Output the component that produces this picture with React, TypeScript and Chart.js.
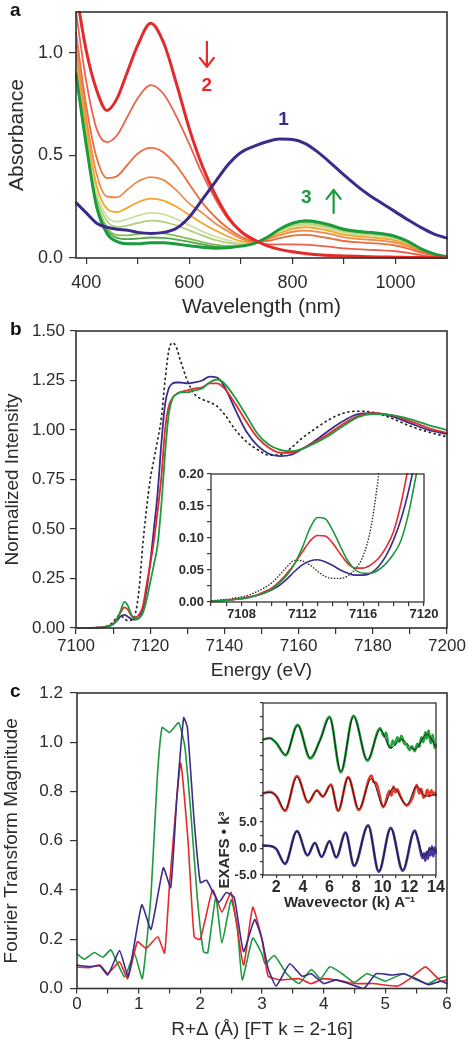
import React, { useEffect, useRef } from 'react';
import { Chart, registerables } from 'chart.js';

Chart.register(...registerables);

const FONT = '"Liberation Sans", Arial, Helvetica, sans-serif';
Chart.defaults.font.family = FONT;

const TEXT = '#2b2b2b';
const AXIS = '#333333';

// ---------------- Panel a : UV-vis absorbance ----------------
const aWavelength = [380, 400, 420, 440, 460, 480, 500, 525, 550, 575, 600, 625, 650, 675, 700, 725, 750, 775, 800, 825, 850, 875, 900, 925, 950, 975, 1000, 1025, 1050, 1075, 1100];
const aSpec1 = [0.27, 0.22, 0.17, 0.15, 0.14, 0.135, 0.125, 0.12, 0.125, 0.145, 0.2, 0.285, 0.37, 0.455, 0.515, 0.545, 0.567, 0.58, 0.578, 0.558, 0.515, 0.462, 0.405, 0.352, 0.305, 0.265, 0.225, 0.185, 0.148, 0.117, 0.097];
const aSpec2 = [1.3, 1.01, 0.82, 0.72, 0.78, 0.91, 1.04, 1.145, 1.05, 0.85, 0.63, 0.45, 0.31, 0.2, 0.13, 0.09, 0.06, 0.042, 0.03, 0.022, 0.016, 0.012, 0.01, 0.008, 0.006, 0.005, 0.004, 0.003, 0.002, 0.001, 0.0];
const aSpec3 = [0.9, 0.55, 0.25, 0.12, 0.08, 0.07, 0.07, 0.075, 0.075, 0.068, 0.06, 0.053, 0.048, 0.05, 0.058, 0.07, 0.1, 0.14, 0.17, 0.182, 0.175, 0.16, 0.14, 0.13, 0.125, 0.118, 0.105, 0.08, 0.045, 0.02, 0.005];
const aStep1 = [1.2, 0.86, 0.63, 0.565, 0.6, 0.69, 0.78, 0.843, 0.8, 0.69, 0.555, 0.41, 0.29, 0.19, 0.125, 0.085, 0.068, 0.066, 0.066, 0.065, 0.06, 0.054, 0.047, 0.043, 0.04, 0.037, 0.033, 0.025, 0.014, 0.006, 0.001];
const aStep2 = [1.1, 0.74, 0.49, 0.39, 0.4, 0.455, 0.51, 0.537, 0.515, 0.45, 0.36, 0.27, 0.2, 0.145, 0.105, 0.082, 0.083, 0.097, 0.109, 0.113, 0.106, 0.095, 0.083, 0.077, 0.073, 0.069, 0.061, 0.046, 0.026, 0.012, 0.003];
const aStep3 = [1.04, 0.68, 0.41, 0.3, 0.296, 0.334, 0.373, 0.395, 0.38, 0.33, 0.265, 0.22, 0.17, 0.13, 0.095, 0.079, 0.089, 0.111, 0.128, 0.134, 0.127, 0.116, 0.101, 0.093, 0.089, 0.084, 0.075, 0.057, 0.032, 0.014, 0.004];
const aStep4 = [0.99, 0.634, 0.354, 0.241, 0.224, 0.246, 0.272, 0.29, 0.28, 0.25, 0.21, 0.17, 0.135, 0.105, 0.082, 0.076, 0.092, 0.12, 0.142, 0.15, 0.143, 0.13, 0.114, 0.106, 0.101, 0.095, 0.085, 0.065, 0.036, 0.016, 0.004];
const aStep5 = [0.96, 0.607, 0.32, 0.202, 0.177, 0.189, 0.207, 0.22, 0.213, 0.19, 0.16, 0.13, 0.105, 0.086, 0.073, 0.074, 0.095, 0.127, 0.151, 0.16, 0.153, 0.14, 0.122, 0.114, 0.109, 0.103, 0.091, 0.07, 0.039, 0.017, 0.004];
const aStep6 = [0.945, 0.592, 0.302, 0.18, 0.152, 0.158, 0.171, 0.182, 0.176, 0.158, 0.135, 0.11, 0.088, 0.074, 0.068, 0.073, 0.096, 0.13, 0.156, 0.166, 0.159, 0.145, 0.127, 0.118, 0.113, 0.107, 0.095, 0.072, 0.041, 0.018, 0.005];
const aStep7 = [0.92, 0.569, 0.274, 0.148, 0.112, 0.11, 0.116, 0.123, 0.12, 0.108, 0.093, 0.078, 0.065, 0.059, 0.062, 0.071, 0.098, 0.136, 0.164, 0.175, 0.168, 0.153, 0.134, 0.124, 0.12, 0.113, 0.1, 0.077, 0.043, 0.019, 0.005];
const aStep8 = [0.91, 0.56, 0.263, 0.135, 0.098, 0.092, 0.095, 0.1, 0.098, 0.09, 0.079, 0.067, 0.056, 0.054, 0.06, 0.07, 0.099, 0.138, 0.167, 0.178, 0.171, 0.156, 0.137, 0.127, 0.122, 0.115, 0.102, 0.078, 0.044, 0.02, 0.005];
const aXTicks = [400, 500, 600, 700, 800, 900, 1000];
const aXLabeled = [400, 600, 800, 1000];
const aYTicks = [0, 0.5, 1.0];

// ---------------- Panel b : XANES ----------------
const bEnergy = [7100, 7105, 7108, 7110, 7111, 7112, 7113, 7114, 7115, 7116, 7117, 7118, 7119, 7120, 7121, 7122, 7123, 7124, 7125, 7126, 7127, 7128, 7130, 7132, 7134, 7136, 7138, 7140, 7143, 7146, 7149, 7152, 7155, 7158, 7161, 7164, 7168, 7172, 7176, 7180, 7185, 7190, 7195, 7200];
const bRef = [0, 0.002, 0.008, 0.03, 0.055, 0.064, 0.048, 0.037, 0.041, 0.072, 0.195, 0.42, 0.6, 0.75, 0.85, 0.95, 1.06, 1.25, 1.4, 1.44, 1.42, 1.36, 1.25, 1.18, 1.155, 1.14, 1.12, 1.08, 1.0, 0.94, 0.9, 0.873, 0.875, 0.91, 0.96, 1.0, 1.05, 1.085, 1.095, 1.09, 1.06, 1.02, 0.99, 0.965];
const bPurple = [0, 0.001, 0.005, 0.019, 0.036, 0.058, 0.066, 0.057, 0.045, 0.042, 0.052, 0.097, 0.19, 0.33, 0.5, 0.68, 0.93, 1.13, 1.21, 1.235, 1.24, 1.24, 1.235, 1.24, 1.25, 1.27, 1.265, 1.22, 1.1, 0.99, 0.92, 0.88, 0.868, 0.875, 0.905, 0.94, 0.995, 1.045, 1.08, 1.085, 1.07, 1.035, 1.0, 0.98];
const bRed = [0, 0.001, 0.006, 0.022, 0.045, 0.078, 0.104, 0.092, 0.06, 0.053, 0.068, 0.108, 0.215, 0.32, 0.44, 0.59, 0.76, 1.0, 1.12, 1.16, 1.18, 1.19, 1.2, 1.21, 1.215, 1.235, 1.235, 1.21, 1.13, 1.04, 0.96, 0.91, 0.885, 0.885, 0.905, 0.935, 0.98, 1.03, 1.07, 1.085, 1.075, 1.045, 1.01, 0.985];
const bGreen = [0, 0.001, 0.005, 0.02, 0.042, 0.085, 0.132, 0.112, 0.064, 0.045, 0.05, 0.075, 0.14, 0.23, 0.32, 0.42, 0.62, 0.88, 1.08, 1.16, 1.18, 1.19, 1.19, 1.2, 1.21, 1.24, 1.255, 1.235, 1.16, 1.07, 0.98, 0.925, 0.9, 0.893, 0.905, 0.93, 0.97, 1.02, 1.065, 1.08, 1.075, 1.055, 1.025, 1.0];
const bXTicks = [7100, 7110, 7120, 7130, 7140, 7150, 7160, 7170, 7180, 7190, 7200];
const bXLabeled = [7100, 7120, 7140, 7160, 7180, 7200];
const bYTicks = [0, 0.25, 0.5, 0.75, 1.0, 1.25, 1.5];

// inset of b : pre-edge
const biEnergy = [7106, 7106.5, 7107, 7107.5, 7108, 7108.5, 7109, 7109.5, 7110, 7110.5, 7111, 7111.5, 7112, 7112.5, 7113, 7113.5, 7114, 7114.5, 7115, 7115.5, 7116, 7116.5, 7117, 7117.5, 7118, 7118.5, 7119, 7119.5, 7120];
const biRef = [0.002, 0.003, 0.004, 0.006, 0.008, 0.011, 0.016, 0.022, 0.03, 0.042, 0.055, 0.065, 0.064, 0.058, 0.048, 0.04, 0.037, 0.037, 0.041, 0.052, 0.072, 0.115, 0.195, 0.3, 0.42, 0.54, 0.66, 0.78, 0.9];
const biPurple = [0.001, 0.002, 0.003, 0.004, 0.005, 0.007, 0.01, 0.014, 0.019, 0.026, 0.036, 0.048, 0.058, 0.064, 0.066, 0.063, 0.057, 0.05, 0.045, 0.042, 0.042, 0.045, 0.055, 0.072, 0.097, 0.13, 0.175, 0.23, 0.29];
const biRed = [0.001, 0.002, 0.003, 0.004, 0.006, 0.008, 0.011, 0.016, 0.022, 0.032, 0.045, 0.06, 0.078, 0.095, 0.104, 0.103, 0.092, 0.075, 0.06, 0.053, 0.053, 0.058, 0.068, 0.085, 0.11, 0.155, 0.215, 0.28, 0.35];
const biGreen = [0.001, 0.002, 0.003, 0.004, 0.005, 0.007, 0.01, 0.014, 0.02, 0.03, 0.042, 0.06, 0.085, 0.115, 0.132, 0.13, 0.112, 0.087, 0.064, 0.05, 0.045, 0.045, 0.05, 0.06, 0.075, 0.097, 0.14, 0.2, 0.26];
const biXTicks = [7106, 7107, 7108, 7109, 7110, 7111, 7112, 7113, 7114, 7115, 7116, 7117, 7118, 7119, 7120];
const biXLabeled = [7108, 7112, 7116, 7120];
const biYTicks = [0, 0.025, 0.05, 0.075, 0.1, 0.125, 0.15, 0.175, 0.2];
const biYLabeled = [0, 0.05, 0.1, 0.15, 0.2];

// ---------------- Panel c : Fourier transform ----------------
const cPurpleR = [0, 0.2, 0.37, 0.5, 0.69, 0.83, 1.05, 1.2, 1.4, 1.52, 1.62, 1.73, 1.79, 1.9, 2.0, 2.1, 2.3, 2.42, 2.55, 2.7, 2.88, 3.0, 3.1, 3.23, 3.45, 3.65, 3.8, 4.0, 4.2, 4.4, 4.65, 4.85, 5.1, 5.3, 5.5, 5.7, 5.9, 6.0];
const cPurple = [0.095, 0.089, 0.092, 0.055, 0.154, 0.05, 0.34, 0.24, 0.49, 0.41, 0.78, 1.1, 1.06, 0.68, 0.43, 0.44, 0.35, 0.39, 0.37, 0.15, 0.28, 0.2, 0.08, 0.01, 0.1, 0.05, 0.06, 0.02, 0.035, 0.02, 0.0, 0.06, 0.055, 0.06, 0.04, 0.015, 0.03, 0.02];
const cRedR = [0, 0.21, 0.37, 0.5, 0.69, 0.82, 0.98, 1.12, 1.31, 1.42, 1.5, 1.68, 1.8, 1.9, 2.0, 2.2, 2.35, 2.5, 2.7, 2.85, 3.0, 3.1, 3.3, 3.6, 3.8, 4.0, 4.3, 4.5, 4.8, 5.2, 5.4, 5.65, 5.9, 6.0];
const cRed = [0.087, 0.085, 0.095, 0.061, 0.108, 0.04, 0.19, 0.163, 0.21, 0.144, 0.42, 0.915, 0.6, 0.21, 0.2, 0.4, 0.31, 0.39, 0.095, 0.33, 0.2, 0.05, 0.035, 0.04, 0.02, 0.04, 0.03, 0.02, 0.02, 0.01, 0.04, 0.088, 0.03, 0.035];
const cGreenR = [0, 0.12, 0.28, 0.42, 0.55, 0.77, 0.93, 1.06, 1.2, 1.3, 1.38, 1.5, 1.65, 1.75, 1.85, 1.95, 2.05, 2.12, 2.25, 2.35, 2.5, 2.6, 2.68, 2.85, 3.0, 3.05, 3.2, 3.4, 3.6, 3.8, 3.95, 4.1, 4.3, 4.5, 4.7, 4.9, 5.0, 5.3, 5.5, 5.7, 5.85, 6.0];
const cGreen = [0.14, 0.119, 0.146, 0.127, 0.157, 0.048, 0.142, 0.04, 0.38, 0.85, 1.06, 1.04, 1.08, 0.98, 0.7, 0.37, 0.15, 0.145, 0.37, 0.185, 0.36, 0.25, 0.035, 0.205, 0.14, 0.1, 0.134, 0.06, 0.02, 0.077, 0.04, 0.088, 0.06, 0.025, 0.06, 0.04, 0.03, 0.06, 0.035, 0.02, 0.04, 0.05];
const cXTicks = [0, 0.5, 1, 1.5, 2, 2.5, 3, 3.5, 4, 4.5, 5, 5.5, 6];
const cXLabeled = [0, 1, 2, 3, 4, 5, 6];
const cYTicks = [0, 0.2, 0.4, 0.6, 0.8, 1.0, 1.2];

// inset of c : EXAFS (offset traces) data and fits
const ciGreenK = [1.0, 1.5, 2.0, 2.7, 3.6, 4.55, 5.3, 6.0, 6.85, 7.8, 8.85, 9.8, 10.1, 10.25, 10.4, 10.6, 10.75, 10.9, 11.1, 11.25, 11.4, 11.6, 11.8, 12.0, 12.2, 12.4, 12.6, 12.75, 12.9, 13.05, 13.2, 13.3, 13.45, 13.6, 13.75, 13.9, 14.0];
const ciGreen = [20.6, 20.9, 19.9, 17.6, 23.4, 17.0, 20.6, 24.9, 14.4, 25.1, 16.6, 22.7, 21.2, 21.9, 19.8, 19.0, 20.4, 19.6, 21.0, 20.2, 21.3, 19.9, 19.6, 18.6, 19.3, 18.4, 19.8, 19.2, 21.0, 20.1, 22.0, 20.8, 22.3, 19.9, 21.5, 19.0, 19.6];
const ciGreenFitK = [1.0, 1.5, 2.0, 2.7, 3.6, 4.55, 5.3, 6.0, 6.85, 7.8, 8.85, 9.8, 10.6, 11.4, 12.4, 13.3, 14.0];
const ciGreenFit = [20.6, 20.8, 20.0, 17.8, 23.2, 17.2, 20.5, 24.7, 14.6, 24.9, 16.8, 22.5, 19.0, 20.6, 18.7, 21.6, 19.2];
const ciRedK = [1.0, 1.5, 2.0, 2.65, 3.55, 4.4, 5.05, 5.5, 6.1, 6.65, 7.4, 8.2, 9.15, 9.3, 9.5, 10.05, 10.5, 10.65, 10.8, 10.95, 11.1, 11.3, 11.8, 12.2, 12.55, 12.75, 12.9, 13.05, 13.2, 13.35, 13.5, 13.65, 13.8, 13.9, 14.0];
const ciRed = [10.4, 10.7, 9.9, 7.1, 13.7, 8.7, 11.0, 9.8, 12.1, 7.1, 13.5, 7.3, 13.8, 12.6, 12.4, 7.8, 10.9, 10.0, 11.7, 10.6, 11.2, 10.0, 8.1, 9.4, 12.0, 10.4, 11.3, 9.6, 10.0, 11.1, 9.9, 11.0, 10.2, 10.6, 10.0];
const ciRedFitK = [1.0, 1.5, 2.0, 2.65, 3.55, 4.4, 5.05, 5.5, 6.1, 6.65, 7.4, 8.2, 9.15, 10.05, 10.8, 11.8, 12.55, 13.2, 14.0];
const ciRedFit = [10.5, 10.6, 10.0, 7.3, 13.5, 8.9, 10.9, 9.9, 11.9, 7.3, 13.4, 7.5, 13.2, 8.0, 11.5, 8.3, 11.8, 9.9, 10.2];
const ciPurpleK = [1.0, 1.5, 2.0, 2.65, 3.55, 4.35, 4.9, 5.4, 6.0, 6.5, 7.2, 7.85, 8.9, 9.7, 10.6, 11.5, 12.4, 12.7, 12.9, 13.0, 13.1, 13.2, 13.3, 13.4, 13.5, 13.6, 13.7, 13.8, 13.9, 14.0];
const ciPurple = [0.6, 0.5, -0.1, -2.9, 3.3, -1.3, 1.1, -1.6, 1.4, -1.7, 3.0, -3.3, 4.4, -4.4, 3.9, -4.2, 3.4, 1.0, -1.2, -1.8, -0.9, -2.3, -0.6, -1.9, 0.1, -1.3, 0.4, -1.5, 0.2, -0.8];
const ciPurpleFitK = [1.0, 1.5, 2.0, 2.65, 3.55, 4.35, 4.9, 5.4, 6.0, 6.5, 7.2, 7.85, 8.9, 9.7, 10.6, 11.5, 12.4, 13.1, 13.6, 14.0];
const ciPurpleFit = [0.4, 0.5, 0.0, -2.8, 3.2, -1.2, 1.0, -1.5, 1.3, -1.6, 2.9, -3.1, 4.2, -4.2, 3.7, -4.0, 3.2, -1.5, 0.0, -0.6];
const ciXTicks = [1, 2, 3, 4, 5, 6, 7, 8, 9, 10, 11, 12, 13, 14];
const ciXLabeled = [2, 4, 6, 8, 10, 12, 14];
const ciYTicks = [-5, -2.5, 0, 2.5, 5, 7.5, 10, 12.5, 15, 17.5, 20, 22.5, 25, 27.5];
const ciYLabeled = [-5, 0, 5];

// ---------------- styles ----------------
const PURPLE = '#3d2a8a';
const RED = '#e42a2a';
const GREEN = '#1b9a3e';
const STEP_COLORS = ['#ec604e', '#ec6c3c', '#f08a48', '#f5a62a', '#cddf9a', '#aed07a', '#82bc55', '#4ea845'];

const pts = (xs: number[], ys: number[]) => xs.map((x, i) => ({ x, y: ys[i] }));

function axis(o: any) {
  return {
    type: 'linear',
    min: o.min,
    max: o.max,
    afterBuildTicks: (s: any) => {
      s.ticks = o.ticks.map((v: number) => ({ value: v }));
    },
    afterFit: (s: any) => {
      if (o.horizontal) s.height = o.size;
      else s.width = o.size;
      s.paddingTop = 0;
      s.paddingBottom = 0;
      s.paddingLeft = 0;
      s.paddingRight = 0;
    },
    grid: { display: true, drawOnChartArea: false, drawTicks: true, tickLength: o.tickLength, color: AXIS, lineWidth: 1.2 },
    border: { display: false },
    ticks: {
      autoSkip: false,
      maxRotation: 0,
      minRotation: 0,
      padding: o.padding,
      color: TEXT,
      font: o.font,
      callback: (v: number) => (o.labeled.includes(v) ? o.fmt(v) : ''),
    },
    title: o.title
      ? { display: true, text: o.title, color: TEXT, font: o.titleFont, padding: o.titlePadding }
      : { display: false },
  };
}

const framePlugin = {
  id: 'frame',
  beforeDraw(chart: any, _a: any, opts: any) {
    if (!opts || !opts.fill) return;
    const { ctx, chartArea: c } = chart;
    ctx.save();
    ctx.fillStyle = opts.fill;
    ctx.fillRect(c.left, c.top, c.right - c.left, c.bottom - c.top);
    ctx.restore();
  },
  afterDraw(chart: any, _a: any, opts: any) {
    const { ctx, chartArea: c } = chart;
    ctx.save();
    ctx.strokeStyle = (opts && opts.color) || AXIS;
    ctx.lineWidth = (opts && opts.width) || 1.5;
    ctx.strokeRect(c.left, c.top, c.right - c.left, c.bottom - c.top);
    ctx.restore();
  },
};

const annotPlugin = {
  id: 'annot',
  afterDraw(chart: any, _a: any, opts: any) {
    const { ctx, scales } = chart;
    const X = (v: number) => scales.x.getPixelForValue(v);
    const Y = (v: number) => scales.y.getPixelForValue(v);
    (opts.arrows || []).forEach((a: any) => {
      const x = X(a.x);
      const y1 = Y(a.from);
      const y2 = Y(a.to);
      const dir = y2 > y1 ? 1 : -1;
      ctx.save();
      ctx.strokeStyle = a.color;
      ctx.lineWidth = a.width;
      ctx.lineCap = 'round';
      ctx.lineJoin = 'round';
      ctx.beginPath();
      ctx.moveTo(x, y1);
      ctx.lineTo(x, y2);
      ctx.moveTo(x - a.head, y2 - dir * a.headLen);
      ctx.lineTo(x, y2);
      ctx.lineTo(x + a.head, y2 - dir * a.headLen);
      ctx.stroke();
      ctx.restore();
    });
    (opts.texts || []).forEach((t: any) => {
      const px = t.data ? X(t.x) : t.x;
      const py = t.data ? Y(t.y) : t.y;
      ctx.save();
      ctx.translate(px, py);
      if (t.rotate) ctx.rotate(t.rotate);
      ctx.font = t.font;
      ctx.fillStyle = t.color;
      ctx.textAlign = t.align || 'center';
      ctx.textBaseline = t.baseline || 'middle';
      ctx.fillText(t.text, 0, 0);
      ctx.restore();
    });
  },
};

function line(xs: number[], ys: number[], color: string, width: number, extra: any = {}) {
  return {
    data: pts(xs, ys),
    borderColor: color,
    borderWidth: width,
    pointRadius: 0,
    fill: false,
    cubicInterpolationMode: 'monotone',
    clip: 1,
    ...extra,
  };
}

function baseOptions(padding: any, scales: any, plugins: any) {
  return {
    responsive: false,
    animation: false,
    devicePixelRatio: 1,
    events: [],
    layout: { padding },
    plugins: { legend: { display: false }, tooltip: { enabled: false }, ...plugins },
    elements: { point: { radius: 0 }, line: { borderCapStyle: 'round', borderJoinStyle: 'round' } },
    scales,
  };
}

const f = (size: number, bold = false) => ({ family: FONT, size, weight: bold ? 'bold' : 'normal', lineHeight: 1.2 });
const panelLetter = (text: string, y: number) => ({ text, x: 10, y, font: `bold 19px ${FONT}`, color: '#111', align: 'left', baseline: 'alphabetic' });

function configA() {
  const steps = [aStep1, aStep2, aStep3, aStep4, aStep5, aStep6, aStep7, aStep8];
  return {
    type: 'line',
    data: {
      datasets: [
        line(aWavelength, aSpec1, PURPLE, 3),
        line(aWavelength, aSpec2, RED, 3),
        line(aWavelength, aSpec3, GREEN, 3),
        ...steps.map((s, i) => line(aWavelength, s, STEP_COLORS[i], 1.8)),
      ],
    },
    options: baseOptions(
      { top: 12, right: 21, left: 0, bottom: 0 },
      {
        x: axis({ min: 380, max: 1100, ticks: aXTicks, labeled: aXLabeled, fmt: (v: number) => String(v), horizontal: true, size: 62, tickLength: 6, padding: 8, font: f(18), title: 'Wavelength (nm)', titleFont: f(21), titlePadding: { top: 0, bottom: 0 } }),
        y: axis({ min: 0, max: 1.2, ticks: aYTicks, labeled: aYTicks, fmt: (v: number) => v.toFixed(1), size: 76, tickLength: 7, padding: 6, font: f(18), title: 'Absorbance', titleFont: f(21), titlePadding: { top: 5, bottom: 0 } }),
      },
      {
        frame: { color: AXIS, width: 1.6 },
        annot: {
          arrows: [
            { x: 634, from: 1.054, to: 0.932, color: RED, width: 2.2, head: 7, headLen: 9 },
            { x: 880, from: 0.22, to: 0.332, color: GREEN, width: 2.2, head: 7, headLen: 9 },
          ],
          texts: [
            panelLetter('a', 16),
            { text: '2', x: 634, y: 0.839, data: true, font: `bold 19px ${FONT}`, color: RED },
            { text: '1', x: 783, y: 0.676, data: true, font: `bold 19px ${FONT}`, color: PURPLE },
            { text: '3', x: 827, y: 0.293, data: true, font: `bold 19px ${FONT}`, color: GREEN },
          ],
        },
      }
    ),
    plugins: [framePlugin, annotPlugin],
  };
}

function configB() {
  return {
    type: 'line',
    data: {
      datasets: [
        line(bEnergy, bGreen, GREEN, 1.8),
        line(bEnergy, bRed, RED, 1.8),
        line(bEnergy, bPurple, PURPLE, 1.8),
        line(bEnergy, bRef, '#222', 1.6, { borderDash: [2.5, 2.5], borderCapStyle: 'butt' }),
      ],
    },
    options: baseOptions(
      { top: 11, right: 21, left: 0, bottom: 0 },
      {
        x: axis({ min: 7100, max: 7200, ticks: bXTicks, labeled: bXLabeled, fmt: (v: number) => String(v), horizontal: true, size: 54, tickLength: 6, padding: 2.3, font: f(17), title: 'Energy (eV)', titleFont: f(19), titlePadding: { top: 0, bottom: 0 } }),
        y: axis({ min: 0, max: 1.5, ticks: bYTicks, labeled: bYTicks, fmt: (v: number) => v.toFixed(2), size: 76, tickLength: 6, padding: 5, font: f(17), title: 'Normalized Intensity', titleFont: f(19), titlePadding: { top: 1, bottom: 0 } }),
      },
      { frame: { color: AXIS, width: 1.6 }, annot: { texts: [panelLetter('b', 15)] } }
    ),
    plugins: [framePlugin, annotPlugin],
  };
}

function configBInset() {
  return {
    type: 'line',
    data: {
      datasets: [
        line(biEnergy, biGreen, GREEN, 1.6),
        line(biEnergy, biRed, RED, 1.6),
        line(biEnergy, biPurple, PURPLE, 1.6),
        line(biEnergy, biRef, '#222', 1.3, { borderDash: [1.5, 1.5], borderCapStyle: 'butt' }),
      ],
    },
    options: baseOptions(
      { top: 8, right: 16, left: 0, bottom: 0 },
      {
        x: axis({ min: 7106, max: 7120, ticks: biXTicks, labeled: biXLabeled, fmt: (v: number) => String(v), horizontal: true, size: 28, tickLength: 4, padding: 0.2, font: f(13, true) }),
        y: axis({ min: 0, max: 0.2, ticks: biYTicks, labeled: biYLabeled, fmt: (v: number) => v.toFixed(2), size: 61, tickLength: 4, padding: 3, font: f(13, true) }),
      },
      { frame: { color: AXIS, width: 1.3, fill: '#ffffff' }, annot: {} }
    ),
    plugins: [framePlugin, annotPlugin],
  };
}

function configC() {
  return {
    type: 'line',
    data: {
      datasets: [
        line(cPurpleR, cPurple, PURPLE, 1.6, { cubicInterpolationMode: 'default', tension: 0.15 }),
        line(cRedR, cRed, RED, 1.6, { cubicInterpolationMode: 'default', tension: 0.15 }),
        line(cGreenR, cGreen, GREEN, 1.6, { cubicInterpolationMode: 'default', tension: 0.15 }),
      ],
    },
    options: baseOptions(
      { top: 13, right: 21, left: 0, bottom: 0 },
      {
        x: axis({ min: 0, max: 6, ticks: cXTicks, labeled: cXLabeled, fmt: (v: number) => String(v), horizontal: true, size: 61.5, tickLength: 5, padding: 0.8, font: f(17), title: 'R+Δ (Å) [FT k = 2-16]', titleFont: f(19), titlePadding: { top: 0, bottom: 9 } }),
        y: axis({ min: 0, max: 1.2, ticks: cYTicks, labeled: cYTicks, fmt: (v: number) => v.toFixed(1), size: 77, tickLength: 7, padding: 7, font: f(17), title: 'Fourier Transform Magnitude', titleFont: f(19), titlePadding: { top: 0, bottom: 0 } }),
      },
      { frame: { color: AXIS, width: 1.6 }, annot: { texts: [panelLetter('c', 17)] } }
    ),
    plugins: [framePlugin, annotPlugin],
  };
}

function configCInset() {
  const fit = '#1a1a1a';
  return {
    type: 'line',
    data: {
      datasets: [
        line(ciGreenFitK, ciGreenFit, fit, 1.0),
        line(ciRedFitK, ciRedFit, fit, 1.0),
        line(ciPurpleFitK, ciPurpleFit, fit, 1.0),
        line(ciGreenK, ciGreen, '#22a23c', 2.6),
        line(ciRedK, ciRed, '#ea3a2c', 2.6),
        line(ciPurpleK, ciPurple, '#4a35a0', 2.6),
      ],
    },
    options: baseOptions(
      { top: 8, right: 14, left: 0, bottom: 0 },
      {
        x: axis({ min: 1, max: 14, ticks: ciXTicks, labeled: ciXLabeled, fmt: (v: number) => String(v), horizontal: true, size: 50, tickLength: 3, padding: 0.4, font: f(16, true), title: 'Wavevector (k) A\u207B\u00B9', titleFont: f(15, true), titlePadding: { top: 0, bottom: 13 } }),
        y: axis({ min: -5, max: 27.5, ticks: ciYTicks, labeled: ciYLabeled, fmt: (v: number) => v.toFixed(1), size: 68, tickLength: 3, padding: 3, font: f(13, true) }),
      },
      {
        frame: { color: AXIS, width: 1.3, fill: '#ffffff' },
        annot: { texts: [{ text: 'EXAFS \u2022 k\u00B3', x: 30, y: 155, rotate: -Math.PI / 2, font: `bold 15px ${FONT}`, color: TEXT }] },
      }
    ),
    plugins: [framePlugin, annotPlugin],
  };
}

function ChartBox({ left, top, width, height, build }: any) {
  const ref = useRef<HTMLCanvasElement>(null);
  useEffect(() => {
    const chart = new Chart(ref.current as HTMLCanvasElement, build());
    return () => chart.destroy();
  }, []);
  return <canvas ref={ref} width={width} height={height} style={{ position: 'absolute', left, top, width, height }} />;
}

export default function App() {
  return (
    <div style={{ position: 'absolute', left: 0, top: 0, width: 468, height: 1050, background: '#ffffff', overflow: 'hidden' }}>
      <ChartBox left={0} top={0} width={468} height={320} build={configA} />
      <ChartBox left={0} top={320} width={468} height={362} build={configB} />
      <ChartBox left={150} top={466} width={290} height={164} build={configBInset} />
      <ChartBox left={0} top={680} width={468} height={370} build={configC} />
      <ChartBox left={195} top={695} width={255} height={230} build={configCInset} />
    </div>
  );
}
